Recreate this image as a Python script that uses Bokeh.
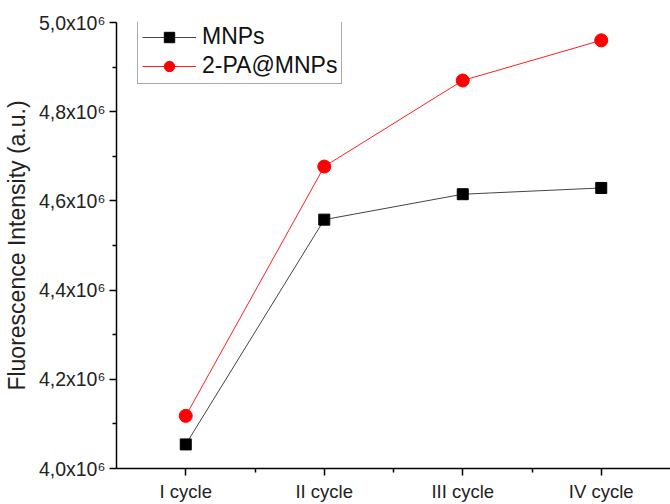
from bokeh.plotting import figure
from bokeh.models import FixedTicker, Legend, LegendItem, Range1d
from bokeh.embed import file_html
from bokeh.resources import INLINE

categories = ["I cycle", "II cycle", "III cycle", "IV cycle"]
x_pos = [1, 2, 3, 4]
mnps = [4.054e6, 4.558e6, 4.615e6, 4.629e6]
pa_mnps = [4.118e6, 4.677e6, 4.870e6, 4.960e6]
y_ticks = [4.0e6, 4.2e6, 4.4e6, 4.6e6, 4.8e6, 5.0e6]
y_tick_labels = ["4,0x10⁶", "4,2x10⁶", "4,4x10⁶", "4,6x10⁶", "4,8x10⁶", "5,0x10⁶"]

FONT = "Liberation Sans"

p = figure(width=670, height=504, output_backend="svg", toolbar_location=None,
           x_range=Range1d(0.5, 4.5), y_range=Range1d(4.0e6, 5.0e6),
           min_border_left=116, min_border_top=22, min_border_right=0, min_border_bottom=34)
p.outline_line_color = None
p.grid.visible = False
p.background_fill_color = "white"

p.xaxis.ticker = FixedTicker(ticks=x_pos, minor_ticks=[1.5, 2.5, 3.5])
p.xaxis.major_label_overrides = {x: c for x, c in zip(x_pos, categories)}
p.yaxis.ticker = FixedTicker(ticks=y_ticks, minor_ticks=[4.1e6, 4.3e6, 4.5e6, 4.7e6, 4.9e6])
p.yaxis.major_label_overrides = {t: l for t, l in zip(y_ticks, y_tick_labels)}

for ax in (p.xaxis, p.yaxis):
    ax.axis_line_color = "black"
    ax.axis_line_width = 1.5
    ax.major_tick_line_color = "black"
    ax.minor_tick_line_color = "black"
    ax.major_tick_line_width = 1.5
    ax.minor_tick_line_width = 1.5
    ax.major_tick_in = 0
    ax.major_tick_out = 7
    ax.minor_tick_in = 0
    ax.minor_tick_out = 4
    ax.major_label_text_font = FONT
    ax.major_label_text_font_size = "18.5px"
    ax.major_label_text_color = "#222222"

p.yaxis.major_label_text_font_size = "19.5px"
p.xaxis.major_label_standoff = 5
p.yaxis.major_label_standoff = 4
p.yaxis.axis_label = "Fluorescence Intensity (a.u.)"
p.yaxis.axis_label_text_font = FONT
p.yaxis.axis_label_text_font_size = "23px"
p.yaxis.axis_label_text_font_style = "normal"
p.yaxis.axis_label_text_color = "#222222"
p.yaxis.axis_label_standoff = 6

l1 = p.line(x_pos, mnps, line_color="#444444", line_width=1)
m1 = p.scatter(x_pos, mnps, marker="square", size=11, fill_color="black", line_color="black")
l2 = p.line(x_pos, pa_mnps, line_color="#ff2020", line_width=1)
m2 = p.scatter(x_pos, pa_mnps, marker="circle", size=13, fill_color="#ff0000", line_color="#ff0000")

legend = Legend(items=[LegendItem(label="MNPs", renderers=[l1, m1]),
                       LegendItem(label="2-PA@MNPs", renderers=[l2, m2])],
                location=(21, 384))
legend.label_text_font = FONT
legend.label_text_font_size = "23px"
legend.label_text_color = "#111111"
legend.glyph_width = 54
legend.glyph_height = 26
legend.spacing = 2
legend.padding = 4
legend.margin = 0
legend.border_line_color = "#555555"
legend.border_line_width = 1
legend.label_standoff = 6
p.add_layout(legend)

open("out.html", "w").write(file_html(p, INLINE))
